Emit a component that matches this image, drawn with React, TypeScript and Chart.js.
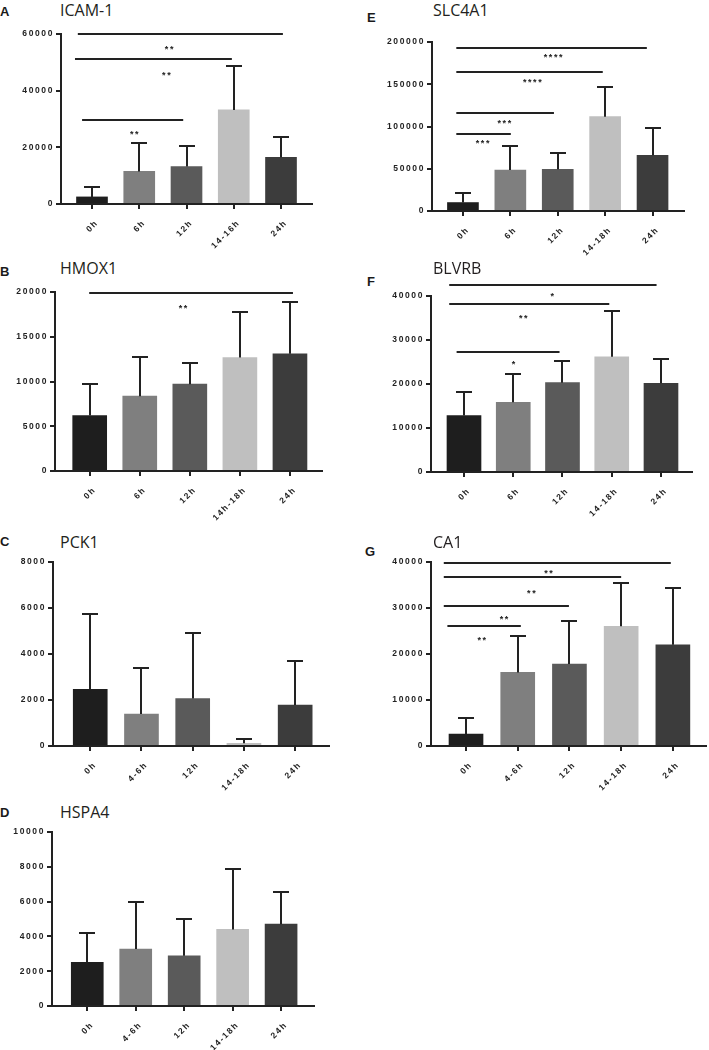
import React, { useEffect, useRef } from 'react';
import { Chart, registerables } from 'chart.js';

Chart.register(...registerables);

// ---------- data ----------
const BAR_COLORS = ['#1e1e1e', '#7f7f7f', '#5a5a5a', '#bfbfbf', '#3c3c3c'];

type Sig = { from: number; to: number; y: number; label: string; lx: number; ly: number };

// A - ICAM-1
const A_CATEGORIES = ['0h', '6h', '12h', '14-16h', '24h'];
const A_MEANS = [2500, 11500, 13200, 33200, 16500];
const A_SD = [3400, 10100, 7300, 15400, 7000];
const A_TICKS = [0, 20000, 40000, 60000];
const A_SIG: Sig[] = [
  { from: -0.3, to: 4.04, y: 60000, label: '**', lx: 1.65, ly: 55500 },
  { from: -0.36, to: 2.96, y: 51200, label: '**', lx: 1.59, ly: 46300 },
  { from: -0.21, to: 1.93, y: 29600, label: '**', lx: 0.91, ly: 25500 },
];

// E - SLC4A1
const E_CATEGORIES = ['0h', '6h', '12h', '14-18h', '24h'];
const E_MEANS = [10000, 48500, 49300, 111600, 65900];
const E_SD = [11700, 28400, 19000, 35100, 32000];
const E_TICKS = [0, 50000, 100000, 150000, 200000];
const E_SIG: Sig[] = [
  { from: -0.14, to: 3.88, y: 193200, label: '****', lx: 1.92, ly: 184600 },
  { from: -0.14, to: 2.95, y: 164800, label: '****', lx: 1.48, ly: 155000 },
  { from: -0.14, to: 1.92, y: 116300, label: '***', lx: 0.89, ly: 106900 },
  { from: -0.14, to: 1.01, y: 90800, label: '***', lx: 0.43, ly: 82800 },
];

// B - HMOX1
const B_CATEGORIES = ['0h', '6h', '12h', '14h-18h', '24h'];
const B_MEANS = [6200, 8360, 9700, 12680, 13090];
const B_SD = [3500, 4430, 2350, 5080, 5750];
const B_TICKS = [0, 5000, 10000, 15000, 20000];
const B_SIG: Sig[] = [
  { from: -0.01, to: 4.06, y: 19890, label: '**', lx: 1.88, ly: 18390 },
];

// F - BLVRB
const F_CATEGORIES = ['0h', '6h', '12h', '14-18h', '24h'];
const F_MEANS = [12820, 15850, 20300, 26180, 20150];
const F_SD = [5300, 6410, 4900, 10420, 5450];
const F_TICKS = [0, 10000, 20000, 30000, 40000];
const F_SIG: Sig[] = [
  { from: -0.3, to: 3.91, y: 42400, label: '*', lx: 1.81, ly: 40500 },
  { from: -0.3, to: 2.95, y: 38100, label: '**', lx: 1.22, ly: 35500 },
  { from: -0.15, to: 1.94, y: 27300, label: '*', lx: 1.02, ly: 25050 },
];

// C - PCK1
const C_CATEGORIES = ['0h', '4-6h', '12h', '14-18h', '24h'];
const C_MEANS = [2465, 1390, 2060, 120, 1780];
const C_SD = [3275, 2010, 2840, 170, 1920];
const C_TICKS = [0, 2000, 4000, 6000, 8000];
const C_SIG: Sig[] = [];

// G - CA1
const G_CATEGORIES = ['0h', '4-6h', '12h', '14-18h', '24h'];
const G_MEANS = [2600, 16000, 17800, 26040, 21990];
const G_SD = [3410, 7870, 9330, 9490, 12450];
const G_TICKS = [0, 10000, 20000, 30000, 40000];
const G_SIG: Sig[] = [
  { from: -0.43, to: 3.96, y: 39860, label: '**', lx: 1.61, ly: 38040 },
  { from: -0.43, to: 3.0, y: 36740, label: '**', lx: 1.28, ly: 33700 },
  { from: -0.43, to: 1.99, y: 30450, label: '**', lx: 0.75, ly: 28060 },
  { from: -0.36, to: 1.06, y: 26100, label: '**', lx: 0.32, ly: 23370 },
];

// D - HSPA4
const D_CATEGORIES = ['0h', '4-6h', '12h', '14-18h', '24h'];
const D_MEANS = [2507, 3270, 2886, 4400, 4705];
const D_SD = [1660, 2680, 2100, 3500, 1855];
const D_TICKS = [0, 2000, 4000, 6000, 8000, 10000];
const D_SIG: Sig[] = [];

// ---------- layout ----------
const Y_AXIS_W = 60;
const X_AXIS_H = 50;
const PAD_TOP = 30;
const PAD_RIGHT = 4;
const TICK_LEN = 4;
const INK = '#222222';
const TICK_FONT = { family: '"Liberation Sans", Arial, Helvetica, sans-serif', size: 8.5, weight: 'bold' as const };

interface PanelCfg {
  letter: string;
  title: string;
  categories: string[];
  means: number[];
  sd: number[];
  yTicks: number[];
  sig: Sig[];
  axisX: number;
  top: number;
  zero: number;
  right: number;
  xMin: number;
  xMax: number;
  barW: number;
  letterX: number;
  letterY: number;
  titleX: number;
  titleY: number;
}

const PANELS: PanelCfg[] = [
  { letter: 'A', title: 'ICAM-1', categories: A_CATEGORIES, means: A_MEANS, sd: A_SD, yTicks: A_TICKS, sig: A_SIG,
    axisX: 61, top: 34, zero: 204, right: 313, xMin: -0.656, xMax: 4.677, barW: 31, letterX: 0, letterY: 7, titleX: 60, titleY: 5 },
  { letter: 'E', title: 'SLC4A1', categories: E_CATEGORIES, means: E_MEANS, sd: E_SD, yTicks: E_TICKS, sig: E_SIG,
    axisX: 432, top: 42, zero: 211, right: 685, xMin: -0.653, xMax: 4.685, barW: 31, letterX: 367, letterY: 13, titleX: 433, titleY: 5 },
  { letter: 'B', title: 'HMOX1', categories: B_CATEGORIES, means: B_MEANS, sd: B_SD, yTicks: B_TICKS, sig: B_SIG,
    axisX: 55, top: 292, zero: 471, right: 323, xMin: -0.693, xMax: 4.66, barW: 34, letterX: 0, letterY: 267, titleX: 60, titleY: 263 },
  { letter: 'F', title: 'BLVRB', categories: F_CATEGORIES, means: F_MEANS, sd: F_SD, yTicks: F_TICKS, sig: F_SIG,
    axisX: 431, top: 296, zero: 472, right: 693, xMin: -0.67, xMax: 4.65, barW: 34, letterX: 367, letterY: 277, titleX: 433, titleY: 263 },
  { letter: 'C', title: 'PCK1', categories: C_CATEGORIES, means: C_MEANS, sd: C_SD, yTicks: C_TICKS, sig: C_SIG,
    axisX: 53, top: 562, zero: 746, right: 330, xMin: -0.727, xMax: 4.68, barW: 34, letterX: 0, letterY: 537, titleX: 60, titleY: 537 },
  { letter: 'G', title: 'CA1', categories: G_CATEGORIES, means: G_MEANS, sd: G_SD, yTicks: G_TICKS, sig: G_SIG,
    axisX: 431, top: 562, zero: 746, right: 707, xMin: -0.677, xMax: 4.66, barW: 34, letterX: 365, letterY: 547, titleX: 433, titleY: 537 },
  { letter: 'D', title: 'HSPA4', categories: D_CATEGORIES, means: D_MEANS, sd: D_SD, yTicks: D_TICKS, sig: D_SIG,
    axisX: 52, top: 832, zero: 1006, right: 315, xMin: -0.728, xMax: 4.7, barW: 32, letterX: 0, letterY: 808, titleX: 60, titleY: 807 },
];

function setSpacing(chart: any) {
  try {
    (chart.ctx as any).letterSpacing = '1.6px';
  } catch (e) {
    /* ignore */
  }
}

function Panel({ cfg }: { cfg: PanelCfg }) {
  const ref = useRef<HTMLCanvasElement>(null);
  const width = Y_AXIS_W + (cfg.right - cfg.axisX) + PAD_RIGHT;
  const height = PAD_TOP + (cfg.zero - cfg.top) + X_AXIS_H;

  useEffect(() => {
    const spacingPlugin = {
      id: 'letterSpacer',
      beforeUpdate: (c: any) => {
        setSpacing(c);
      },
      beforeLayout: (c: any) => {
        setSpacing(c);
      },
      beforeDraw: (c: any) => {
        setSpacing(c);
      },
    };
    // axis lines, tick marks, SD whiskers, significance brackets — positioned by the chart's own scales
    const overlayPlugin = {
      id: 'prismOverlay',
      afterDraw: (c: any) => {
        const ctx = c.ctx;
        const xs = c.scales.x;
        const ys = c.scales.y;
        const meta = c.getDatasetMeta(0);
        const left = Math.round(xs.left);
        const right = Math.round(xs.right);
        const bottom = Math.round(ys.getPixelForValue(0));
        const top = Math.round(ys.getPixelForValue(cfg.yTicks[cfg.yTicks.length - 1]));
        ctx.save();
        ctx.strokeStyle = INK;
        ctx.fillStyle = INK;
        ctx.lineWidth = 2;
        ctx.lineCap = 'butt';
        // whiskers
        meta.data.forEach((bar: any, i: number) => {
          const x = Math.round(bar.x);
          const y0 = ys.getPixelForValue(cfg.means[i]);
          const y1 = Math.round(ys.getPixelForValue(cfg.means[i] + cfg.sd[i]));
          ctx.beginPath();
          ctx.moveTo(x, y0);
          ctx.lineTo(x, y1);
          ctx.moveTo(x - 8, y1);
          ctx.lineTo(x + 8, y1);
          ctx.stroke();
        });
        // y axis + ticks
        ctx.beginPath();
        ctx.moveTo(left, top - 1);
        ctx.lineTo(left, bottom + 1);
        ctx.stroke();
        cfg.yTicks.forEach((v) => {
          const y = Math.round(ys.getPixelForValue(v));
          ctx.beginPath();
          ctx.moveTo(left - TICK_LEN - 1, y);
          ctx.lineTo(left, y);
          ctx.stroke();
        });
        // x axis + ticks
        ctx.beginPath();
        ctx.moveTo(left - TICK_LEN - 1, bottom);
        ctx.lineTo(right, bottom);
        ctx.stroke();
        cfg.categories.forEach((_, i) => {
          const x = Math.round(xs.getPixelForValue(i));
          ctx.beginPath();
          ctx.moveTo(x, bottom);
          ctx.lineTo(x, bottom + TICK_LEN + 1);
          ctx.stroke();
        });
        // significance brackets
        ctx.font = 'bold 9px "Liberation Sans", Arial, sans-serif';
        ctx.textAlign = 'center';
        ctx.textBaseline = 'alphabetic';
        cfg.sig.forEach((s) => {
          const y = Math.round(ys.getPixelForValue(s.y));
          ctx.beginPath();
          ctx.moveTo(xs.getPixelForValue(s.from), y);
          ctx.lineTo(xs.getPixelForValue(s.to), y);
          ctx.stroke();
          ctx.fillText(s.label, xs.getPixelForValue(s.lx), ys.getPixelForValue(s.ly) + 5);
        });
        ctx.restore();
      },
    };

    const chart = new Chart(ref.current as HTMLCanvasElement, {
      type: 'bar',
      data: {
        datasets: [
          {
            data: cfg.means.map((m, i) => ({ x: i, y: m })),
            backgroundColor: BAR_COLORS,
            borderWidth: 0,
            barThickness: cfg.barW,
          } as any,
        ],
      },
      options: {
        animation: false,
        responsive: false,
        maintainAspectRatio: false,
        devicePixelRatio: 1,
        events: [],
        layout: { autoPadding: false, padding: { top: PAD_TOP, right: PAD_RIGHT, left: 0, bottom: 0 } },
        plugins: { legend: { display: false }, tooltip: { enabled: false }, title: { display: false } },
        scales: {
          x: {
            type: 'linear',
            offset: false,
            min: cfg.xMin,
            max: cfg.xMax,
            afterBuildTicks: (s: any) => {
              s.ticks = cfg.categories.map((_, i) => ({ value: i }));
            },
            afterFit: (s: any) => {
              s.height = X_AXIS_H;
              s.paddingLeft = 0;
              s.paddingRight = 0;
            },
            ticks: {
              autoSkip: false,
              minRotation: 45,
              maxRotation: 45,
              padding: 14,
              labelOffset: 5,
              color: INK,
              font: TICK_FONT,
              callback: (v: any) => cfg.categories[v as number] ?? '',
            },
            grid: { display: false, offset: false, drawTicks: false },
            border: { display: false },
          },
          y: {
            min: 0,
            max: cfg.yTicks[cfg.yTicks.length - 1],
            afterBuildTicks: (s: any) => {
              s.ticks = cfg.yTicks.map((v) => ({ value: v }));
            },
            afterFit: (s: any) => {
              s.width = Y_AXIS_W;
              s.paddingTop = 0;
              s.paddingBottom = 0;
            },
            ticks: { padding: 7, color: INK, font: TICK_FONT, callback: (v: any) => String(v) },
            grid: { display: false, drawTicks: false },
            border: { display: false },
          },
        },
      } as any,
      plugins: [spacingPlugin, overlayPlugin],
    });
    return () => chart.destroy();
  }, [cfg]);

  return (
    <>
      <div
        style={{
          position: 'absolute',
          left: cfg.letterX,
          top: cfg.letterY - 2,
          font: 'bold 13px "Liberation Sans", Arial, sans-serif',
          lineHeight: '13px',
          color: '#1a1a1a',
          whiteSpace: 'nowrap',
        }}
      >
        {cfg.letter}
      </div>
      <div
        style={{
          position: 'absolute',
          left: cfg.titleX,
          top: cfg.titleY - 3,
          fontFamily: '"Open Sans", "Noto Sans", sans-serif',
          fontSize: 16,
          lineHeight: '16px',
          color: '#231f20',
          whiteSpace: 'nowrap',
        }}
      >
        {cfg.title}
      </div>
      <canvas
        ref={ref}
        width={width}
        height={height}
        style={{ position: 'absolute', left: cfg.axisX - Y_AXIS_W, top: cfg.top - PAD_TOP, width, height }}
      />
    </>
  );
}

export default function App() {
  return (
    <div
      style={{
        position: 'absolute',
        left: 0,
        top: 0,
        width: 709,
        height: 1050,
        overflow: 'hidden',
        background: '#ffffff',
      }}
    >
      {PANELS.map((p) => (
        <Panel key={p.letter} cfg={p} />
      ))}
    </div>
  );
}
